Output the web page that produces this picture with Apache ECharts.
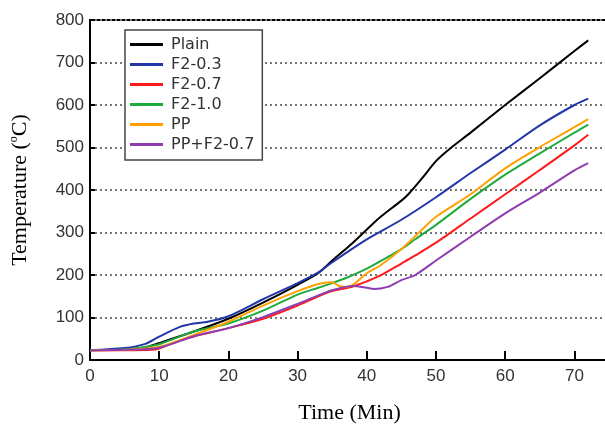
<!DOCTYPE html>
<html><head><meta charset="utf-8">
<script src="https://cdn.jsdelivr.net/npm/echarts@6/dist/echarts.min.js"></script>
<style>html,body{margin:0;padding:0;background:#fff;overflow:hidden;width:605px;height:429px}#c{width:610px;height:429px}</style>
</head><body><div id="c"></div>
<script>
const xTicks = [0,10,20,30,40,50,60,70];
const yTicks = [0,100,200,300,400,500,600,700,800];

const plainT = [0,5,8,10,15,20,25,30,33,35,38,40,42,45,46,48,50,52,55,60,65,70,72];
const plainV = [23,25,30,40,67,97,135,177,205,234,276,307,337,375,390,428,468,497,535,600,663,727,752];

const f203T = [0,5,8,10,13,15,17,20,25,30,33,35,40,45,50,55,60,65,70,72];
const f203V = [23,28,38,55,78,86,90,103,143,181,206,230,284,330,383,440,495,552,600,615];

const f207T = [0,5,9,10,12,15,20,25,30,33,35,38,40,42,45,47,50,55,60,65,70,72];
const f207V = [23,23,24,27,40,55,75,97,128,150,162,173,185,199,227,246,276,333,390,447,505,530];

const f210T = [0,5,8,10,15,20,25,30,33,35,37,40,43,45,47,50,55,60,65,70,72];
const f210V = [23,25,31,37,67,86,116,154,170,181,193,215,242,261,284,318,379,436,486,535,554];

const ppT = [0,5,10,15,20,25,30,33,35,36,37,38,40,42,45,48,50,55,60,65,67,70,72];
const ppV = [23,24,31,59,90,128,162,179,183,174,172,177,204,223,261,307,337,390,451,501,520,548,567];

const ppfT = [0,5,10,15,20,25,30,33,35,38,40,41,43,45,47,50,55,60,65,70,72];
const ppfV = [23,24,29,56,75,101,132,152,164,174,170,167,172,188,200,234,290,345,394,446,463];

const names = ['Plain','F2-0.3','F2-0.7','F2-1.0','PP','PP+F2-0.7'];
const colors = ['#000000','#2236a8','#ff1a1a','#1faa3c','#ffa000','#8e3cb0'];
const sets = [[plainT,plainV],[f203T,f203V],[f207T,f207V],[f210T,f210V],[ppT,ppV],[ppfT,ppfV]];

const chart = echarts.init(document.getElementById('c'));
const tickFont = "'Liberation Sans Narrow','Arial Narrow','Liberation Sans',sans-serif";
chart.setOption({
  animation:false,
  grid:{left:88, top:20, right:1, bottom:62, show:true, borderColor:'#000', borderWidth:2, backgroundColor:'transparent'},
  legend:{
    orient:'vertical', left:125, top:30, width:143,
    backgroundColor:'#fff', borderColor:'#444', borderWidth:1.5,
    padding:[6,8,7,5], itemWidth:33, itemHeight:3, itemGap:3,
    icon:'rect',
    textStyle:{fontFamily:"'DejaVu Sans','Liberation Sans',sans-serif", fontSize:16, color:'#333', lineHeight:17, padding:[0,0,0,3]},
    data:names
  },
  xAxis:{
    type:'value', min:0, max:75, interval:10,
    name:'Time (Min)', nameLocation:'middle', nameGap:42,
    nameTextStyle:{fontFamily:"'Liberation Serif','Times New Roman',serif", fontSize:22, color:'#000'},
    axisLine:{show:true, onZero:false, lineStyle:{color:'#000', width:2}},
    axisTick:{show:true, inside:true, length:9, lineStyle:{color:'#000', width:2}},
    axisLabel:{fontFamily:tickFont, fontSize:17, color:'#333', margin:8, showMaxLabel:false,
      formatter:v=> xTicks.includes(v)? String(v):''},
    splitLine:{show:false}
  },
  yAxis:{
    type:'value', min:0, max:800, interval:100,
    name:'{a|Temperature (}{s|o}{a|C)}', nameLocation:'middle', nameGap:58, nameRotate:90,
    nameTextStyle:{rich:{
      a:{fontFamily:"'Liberation Serif','Times New Roman',serif", fontSize:22, color:'#000'},
      s:{fontFamily:"'Liberation Serif','Times New Roman',serif", fontSize:12, color:'#000', verticalAlign:'top', padding:[0,0,12,0]}
    }},
    axisLine:{show:true, lineStyle:{color:'#000', width:2}},
    axisTick:{show:true, inside:true, length:5, lineStyle:{color:'#000', width:2}},
    axisLabel:{fontFamily:tickFont, fontSize:17, color:'#333', margin:6,
      formatter:v=> yTicks.includes(v)? String(v):''},
    splitLine:{show:true, lineStyle:{color:'#777', width:2, type:[2,3]}}
  },
  series: sets.map((s,i)=>({
    name:names[i], type:'line', smooth:0.3, symbol:'none',
    lineStyle:{color:colors[i], width:2}, itemStyle:{color:colors[i]},
    data:s[0].map((t,j)=>[t,s[1][j]])
  }))
});
</script></body></html>
